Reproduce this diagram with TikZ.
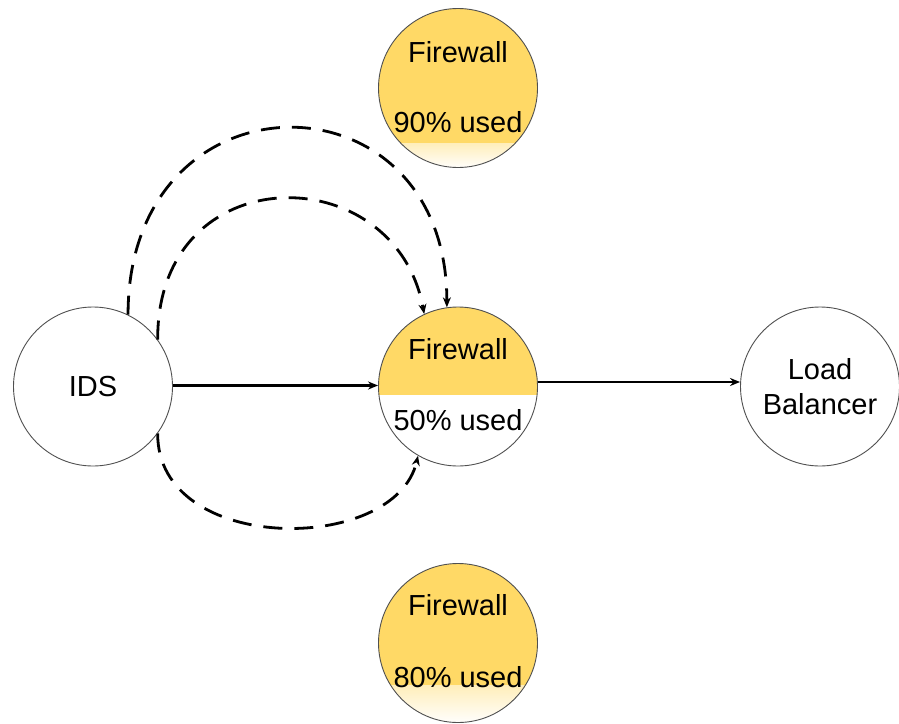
\documentclass[tikz,border=0pt]{standalone}
\usepackage{fontspec}
\setmainfont{Liberation Sans}
\usetikzlibrary{arrows.meta,calc}
\definecolor{fwyellow}{HTML}{FFD966}
\definecolor{rim}{HTML}{505050}
\begin{document}
\begin{tikzpicture}[x=1pt,y=-1pt,
  unit/.style={circle, draw=rim, line width=0.9pt, minimum size=159pt, inner sep=0pt,
    font=\fontsize{29}{35}\selectfont, align=center},
  txt/.style={font=\fontsize{29}{35}\selectfont, inner sep=0pt, anchor=base},
  flow/.style={line width=2.2pt, -{Stealth[length=10pt,width=8pt]}},
  probe/.style={line width=2.8pt, dash pattern=on 19pt off 12pt,
    -{Stealth[length=10pt,width=8pt]}},
  solidfill/.style={path picture={
    \fill[fwyellow] ($(path picture bounding box.center)+(-81,-81)$)
      rectangle ($(path picture bounding box.center)+(81,#1)$);}},
  fadefill/.style args={#1/#2}{path picture={
    \fill[fwyellow] ($(path picture bounding box.center)+(-81,-81)$)
      rectangle ($(path picture bounding box.center)+(81,#1)$);
    \shade[top color=fwyellow!45!white, bottom color=white]
      ($(path picture bounding box.center)+(-81,#1)$)
      rectangle ($(path picture bounding box.center)+(81,#2)$);}},
]
\useasboundingbox (0,0) rectangle (899,723);

% nodes
\node[unit] (ids) at (93,386.5) {IDS};
\node[unit, solidfill=8] (fwmid) at (458,386.5) {};
\node[unit, fadefill=55/81] (fwtop) at (458,88) {};
\node[unit, fadefill=42/81] (fwbot) at (458,643) {};
\node[unit] (lb) at (820,386.5) {Load\\Balancer};

% labels
\node[txt] (fwtopname) at ($(fwtop.center)+(0,-26)$) {Firewall};
\node[txt] (fwtopuse)  at ($(fwtop.center)+(0,44)$) {90\% used};
\node[txt] (fwmidname) at ($(fwmid.center)+(0,-27)$) {Firewall};
\node[txt] (fwmiduse)  at ($(fwmid.center)+(0,44)$) {50\% used};
\node[txt] (fwbotname) at ($(fwbot.center)+(0,-28)$) {Firewall};
\node[txt] (fwbotuse)  at ($(fwbot.center)+(0,44)$) {80\% used};

% connectors
\draw[flow] ([yshift=1pt]ids.east) -- ([yshift=1pt]fwmid.west);
\draw[flow] ([yshift=4.5pt]fwmid.east) -- ([yshift=4.5pt]lb.west);
\draw[probe] (ids.64) .. controls (128,67) and (447,67) .. (fwmid.98);
\draw[probe] (ids.36) .. controls (157,156) and (395,156) .. (fwmid.115);
\draw[probe] (ids.-36) .. controls (157,555) and (395,555) .. (fwmid.240);
\end{tikzpicture}
\end{document}
